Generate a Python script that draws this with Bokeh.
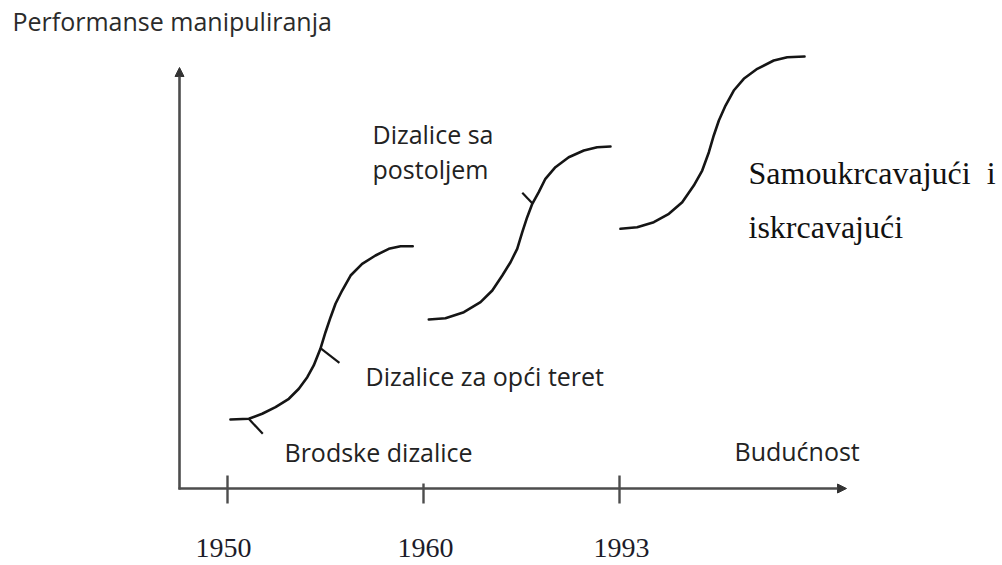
from bokeh.plotting import figure
from bokeh.models import Range1d, Arrow, NormalHead
from bokeh.core.properties import value
from bokeh.embed import file_html
from bokeh.resources import INLINE

# ---------------- data (time index: 1 = 1950, 2 = 1960, 3 = 1993; performance 0..100) -------------
years = ["1950", "1960", "1993"]
year_pos = [1, 2, 3]

# S-curves
c1_t = [1.015, 1.109, 1.177, 1.245, 1.313, 1.364, 1.407, 1.440, 1.474, 1.500,
        1.526, 1.551, 1.585, 1.628, 1.687, 1.755, 1.823, 1.883, 1.945]
c1_p = [16.43, 16.60, 17.79, 19.36, 21.36, 23.74, 26.50, 29.29, 33.26, 37.21,
        40.79, 43.98, 47.14, 50.71, 53.50, 55.48, 57.07, 57.69, 57.69]

c2_t = [2.027, 2.112, 2.206, 2.291, 2.351, 2.402, 2.444, 2.478, 2.504, 2.529,
        2.555, 2.588, 2.622, 2.673, 2.741, 2.818, 2.886, 2.954]
c2_p = [40.24, 40.55, 41.98, 44.36, 47.14, 50.71, 53.88, 57.07, 61.02, 64.60,
        67.79, 70.55, 73.74, 76.50, 78.88, 80.48, 81.26, 81.43]

c3_t = [3.005, 3.090, 3.175, 3.252, 3.320, 3.379, 3.422, 3.456, 3.481, 3.507,
        3.541, 3.583, 3.634, 3.703, 3.787, 3.856, 3.944]
c3_p = [61.83, 62.21, 63.40, 65.40, 68.17, 72.14, 75.71, 80.07, 84.05, 87.62,
        91.19, 94.76, 97.55, 99.93, 101.90, 102.69, 102.86]

# short pointer strokes on the curves
ptr_t0 = [1.107, 1.474, 2.555]
ptr_p0 = [16.67, 33.40, 67.93]
ptr_t1 = [1.180, 1.571, 2.504]
ptr_p1 = [13.02, 29.93, 70.40]

title_text = "Performanse manipuliranja"
sans_labels = ["Dizalice sa", "postoljem", "Dizalice za opći teret", "Brodske dizalice", "Budućnost"]
serif_labels = ["Samoukrcavajući\u00a0 i", "iskrcavajući"]

# ---------------- layout helpers (page pixel -> data) ----------------
def X(px):
    return 1 + (px - 227) / 196.0

def Y(py):
    return (488 - py) / 4.2

SHIFT = 12  # compensation for the SVG text baseline offset

W, H = 1002, 565
p = figure(width=W, height=H, output_backend="svg", toolbar_location=None,
           x_range=Range1d(X(0), X(W)), y_range=Range1d(Y(H), Y(0)),
           x_axis_type=None, y_axis_type=None, min_border=0,
           outline_line_color=None, background_fill_color="white",
           border_fill_color="white")
p.grid.visible = False

AX = "#4d4d4d"
HEAD = "#333333"
# axes
p.add_layout(Arrow(end=NormalHead(size=9, fill_color=HEAD, line_color=HEAD, line_width=1),
                   x_start=X(179), y_start=Y(489), x_end=X(179), y_end=Y(67),
                   line_color=AX, line_width=2.6))
p.add_layout(Arrow(end=NormalHead(size=9, fill_color=HEAD, line_color=HEAD, line_width=1),
                   x_start=X(178), y_start=Y(488), x_end=X(846), y_end=Y(488),
                   line_color=AX, line_width=2.6))
tick_top = [Y(475), Y(483), Y(475)]
p.segment(x0=year_pos, y0=tick_top, x1=year_pos, y1=[Y(503)] * 3, line_color=AX, line_width=2.4)
p.text(x=[X(223), X(425), X(621)], y=[Y(558 - 11)] * 3, text=years,
       text_font=value("Liberation Serif"), text_font_size="28px", text_color="#1c1c2a",
       text_align="center", text_baseline="alphabetic")

# curves
CURVE = "#151515"
for t, v in [(c1_t, c1_p), (c2_t, c2_p), (c3_t, c3_p)]:
    p.line(t, v, line_color=CURVE, line_width=2.6, line_join="round", line_cap="round")
p.segment(x0=ptr_t0, y0=ptr_p0, x1=ptr_t1, y1=ptr_p1, line_color=CURVE, line_width=2.2)

# texts
p.text(x=[X(12)], y=[Y(33 - 13)], text=[title_text], text_font=value("Open Sans"),
       text_font_size="25px", text_color="#2b2b2b", text_baseline="alphabetic")
p.text(x=[X(372), X(372), X(365), X(284), X(734)],
       y=[Y(145 - SHIFT), Y(180 - SHIFT), Y(387 - SHIFT), Y(463 - SHIFT), Y(462 - SHIFT)],
       text=sans_labels, text_font=value("Open Sans"), text_font_size="25px",
       text_color="#222222", text_baseline="alphabetic")
p.text(x=[X(748), X(748)], y=[Y(185 - 13), Y(238 - 12)], text=serif_labels,
       text_font=value("Liberation Serif"), text_font_size="32px", text_color="#111111",
       text_baseline="alphabetic")

open("out.html", "w").write(file_html(p, INLINE))
